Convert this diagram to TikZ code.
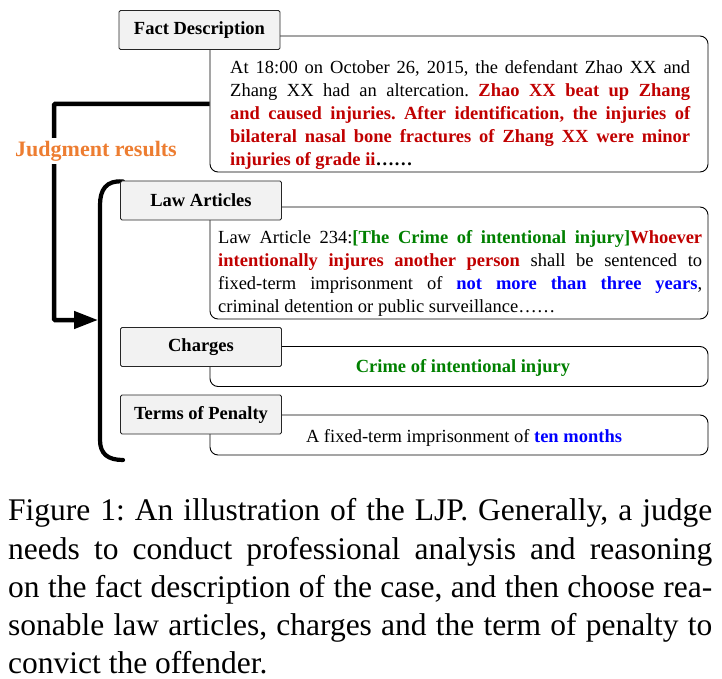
\documentclass[tikz,border=0pt]{standalone}
\usepackage{fontspec}
\setmainfont{Liberation Serif}
\usetikzlibrary{arrows.meta}
\definecolor{cred}{RGB}{192,0,0}
\definecolor{cgreen}{RGB}{0,128,0}
\definecolor{cblue}{RGB}{0,0,255}
\definecolor{corange}{RGB}{237,125,49}
\definecolor{lblfill}{RGB}{242,242,242}
\tolerance=9999
\frenchspacing
\begin{document}
\begin{tikzpicture}[x=1pt,y=-1pt,
  lbl/.style={draw=black!85, fill=lblfill, rounded corners=1.5pt, minimum width=161pt, minimum height=39pt, inner sep=0pt, line width=0.8pt, font=\fontsize{18.5}{22}\selectfont\bfseries},
  txtbox/.style={draw=black, rounded corners=8pt, minimum width=498pt, inner sep=0pt, line width=0.9pt},
  body/.style={inner sep=0pt, align=justify, font=\fontsize{18.5}{23}\selectfont},
  heavy/.style={line width=4.5pt},
  bracketline/.style={line width=4.2pt, line cap=round}]
\useasboundingbox (0,0) rectangle (722,679);

% bracket
\coordinate (btop) at (123,181.5);
\coordinate (bbot) at (123,460);
\draw[bracketline] (btop) .. controls (106,180) and (100,190) .. (100,205) -- (100,440) .. controls (100,454) and (108,460) .. (bbot);

% fact description
\node[txtbox, minimum height=136pt] (factbox) at (459,104) {};
\node[lbl] (factlbl) at (199.5,30) {Fact Description};
\node[body, text width=460pt, anchor=north west] (facttext) at (230,60) {At 18:00 on October 26, 2015, the defendant Zhao XX and\linebreak Zhang XX had an altercation. \textcolor{cred}{\bfseries Zhao XX beat up Zhang\linebreak and caused injuries. After identification, the injuries of\linebreak bilateral nasal bone fractures of Zhang XX were minor\linebreak injuries of grade ii}{\bfseries ……}};

% law articles
\node[txtbox, minimum height=112pt] (lawbox) at (459,263) {};
\node[lbl] (lawlbl) at (201,200.5) {Law Articles};
\node[body, text width=484pt, anchor=north west] (lawtext) at (218,230) {Law Article 234:\textcolor{cgreen}{\bfseries[The Crime of intentional injury]}\textcolor{cred}{\bfseries Whoever\linebreak intentionally injures another person} shall be sentenced to\linebreak fixed-term imprisonment of \textcolor{cblue}{\bfseries not more than three years},\linebreak criminal detention or public surveillance……};

% charges
\node[txtbox, minimum height=40pt] (chbox) at (459,366.5) {};
\node[lbl] (chlbl) at (201,347) {Charges};
\node[inner sep=0pt, text=cgreen, font=\fontsize{18.5}{22}\selectfont\bfseries] (chtext) at (463,368) {Crime of intentional injury};

% terms of penalty
\node[txtbox, minimum height=40pt] (tpbox) at (459,435) {};
\node[lbl] (tplbl) at (201,414.5) {Terms of Penalty};
\node[inner sep=0pt, font=\fontsize{18.5}{22}\selectfont] (tptext) at (464,438) {A fixed-term imprisonment of \textcolor{cblue}{\bfseries ten months}};

% judgment results connector
\coordinate (corner) at (54,320);
\coordinate (tip) at (98,320);
\draw[heavy, rounded corners=1pt, -{Triangle[length=24pt,width=17pt]}] (factbox.west) -| (corner) -- (tip);
\node[fill=white, inner sep=3pt, text=corange, font=\fontsize{22}{24}\selectfont\bfseries] (judg) at (96,151) {Judgment results};

% caption
\node[anchor=north west, inner sep=0pt, text width=704pt, align=justify, font=\fontsize{31.5}{38.2}\selectfont] (cap) at (8,498.5) {Figure 1: An illustration of the LJP. Generally, a judge\linebreak needs to conduct professional analysis and reasoning\linebreak on the fact description of the case, and then choose rea-\linebreak sonable law articles, charges and the term of penalty to\linebreak convict the offender.};
\end{tikzpicture}
\end{document}
